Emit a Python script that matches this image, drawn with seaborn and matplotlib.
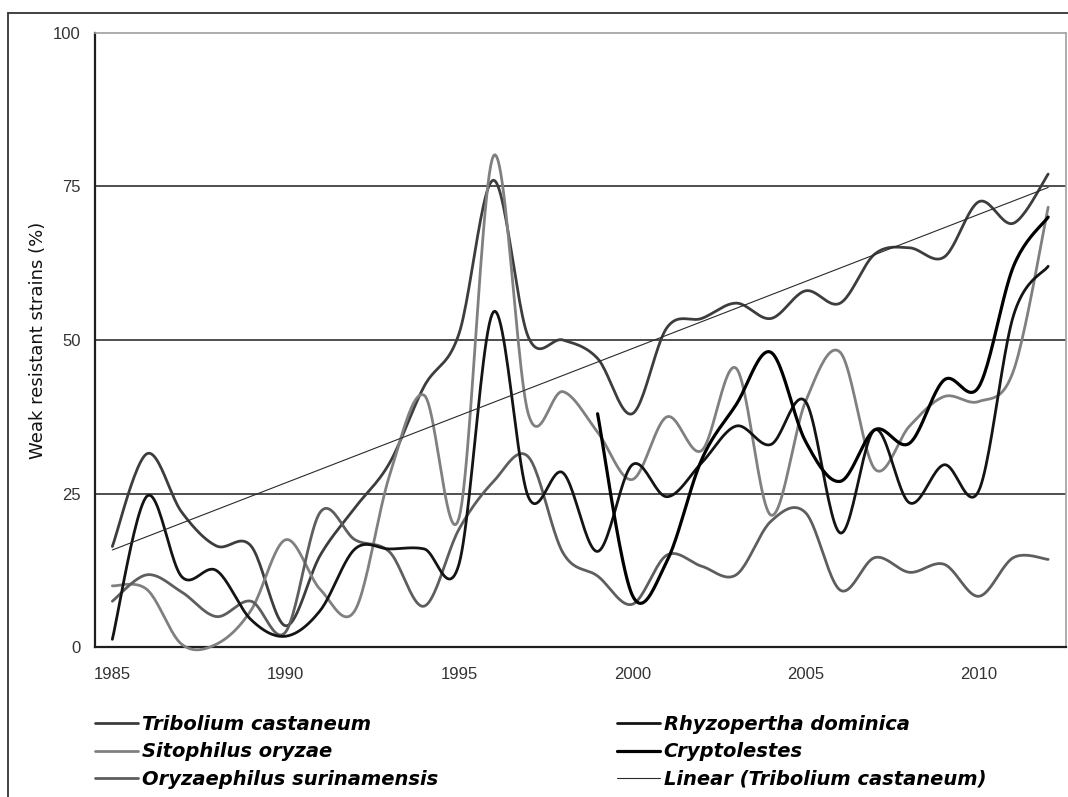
import numpy as np
import pandas as pd
import matplotlib
matplotlib.use("Agg")
import matplotlib.pyplot as plt
import seaborn as sns
from matplotlib.lines import Line2D

# Percentage of weak resistant strains per year and species
years = list(range(1985, 2013))
tribolium = [16.4, 31.5, 22.0, 16.5, 16.5, 3.5, 15.0, 22.7, 30.0, 42.5, 51.0, 76.0, 50.5, 50.0,
             47.0, 38.0, 52.0, 53.5, 56.0, 53.5, 58.0, 56.0, 64.0, 65.0, 63.5, 72.5, 69.0, 77.0]
sitophilus = [10.0, 9.4, 0.5, 0.5, 6.0, 17.5, 9.4, 6.0, 28.0, 41.0, 21.0, 80.0, 38.0, 41.6,
              35.0, 27.3, 37.5, 32.0, 45.4, 21.5, 40.0, 48.0, 29.0, 36.0, 40.8, 40.0, 45.0, 71.6]
oryzaephilus = [7.5, 11.8, 9.0, 5.0, 7.5, 2.5, 22.0, 17.5, 15.5, 6.7, 19.2, 27.0, 31.0, 15.4,
                11.6, 7.0, 15.0, 13.2, 11.8, 20.5, 21.9, 9.3, 14.6, 12.2, 13.5, 8.3, 14.6, 14.3]
rhyzopertha = [1.3, 24.6, 11.5, 12.5, 4.5, 1.8, 6.0, 16.0, 16.0, 16.0, 13.5, 54.6, 24.5, 28.4,
               15.6, 29.7, 24.5, 30.0, 36.0, 33.0, 40.0, 18.6, 35.4, 23.5, 29.7, 25.5, 54.0, 62.0]
cryptolestes = [np.nan] * 14 + [38.0, 8.5, 14.0, 30.5, 39.5, 48.0, 33.5, 27.0, 35.4, 33.2,
                                43.5, 42.4, 62.0, 70.0]

series_names = ["Tribolium castaneum", "Sitophilus oryzae", "Oryzaephilus surinamensis",
                "Rhyzopertha dominica", "Cryptolestes"]
series_values = [tribolium, sitophilus, oryzaephilus, rhyzopertha, cryptolestes]
series_colors = ["#3d3d3d", "#808080", "#5e5e5e", "#141414", "#000000"]
series_widths = [2.0, 2.0, 2.0, 2.0, 2.3]
year_labels = [1985, 1990, 1995, 2000, 2005, 2010]
y_ticks = [0, 25, 50, 75, 100]


def bezier_smooth(xs, ys, steps=24):
    """Smoothed line through the points (cubic Bezier, 1/6 tangent rule)."""
    pts = np.column_stack([xs, ys]).astype(float)
    n = len(pts)
    parts = []
    for i in range(n - 1):
        p0 = pts[max(i - 1, 0)]
        p1 = pts[i]
        p2 = pts[i + 1]
        p3 = pts[min(i + 2, n - 1)]
        c1 = p1 + (p2 - p0) / 6.0
        c2 = p2 - (p3 - p1) / 6.0
        t = np.linspace(0, 1, steps, endpoint=(i == n - 2))[:, None]
        seg = ((1 - t) ** 3) * p1 + 3 * ((1 - t) ** 2) * t * c1 + 3 * (1 - t) * (t ** 2) * c2 + (t ** 3) * p2
        parts.append(seg)
    arr = np.vstack(parts)
    return arr[:, 0], arr[:, 1]


sns.set_style("white")
plt.rcParams["font.family"] = ["Liberation Sans", "DejaVu Sans"]

W, H = 1068, 797
fig = plt.figure(figsize=(W / 100, H / 100), dpi=100)
ax = fig.add_axes([95 / W, 1 - 647.3 / H, (1065.5 - 95) / W, (647.3 - 32.7) / H])

# Horizontal gridlines
for v in [25, 50, 75]:
    ax.axhline(v, color="#1e1e1e", lw=1.1, zorder=1)

df = pd.DataFrame({"year": years})
for name, vals, col, lw in zip(series_names, series_values, series_colors, series_widths):
    df[name] = vals
    d = df[["year", name]].dropna()
    sx, sy = bezier_smooth(d["year"].values, d[name].values)
    sns.lineplot(x=sx, y=sy, sort=False, estimator=None, color=col, lw=lw, ax=ax,
                 zorder=3, clip_on=False)

# Linear trend fitted to Tribolium castaneum
coef = np.polyfit(years, tribolium, 1)
trend = np.polyval(coef, years)
sns.lineplot(x=years, y=trend, sort=False, estimator=None, color="#2a2a2a", lw=0.8, ax=ax, zorder=4)

ax.set_xlim(1984.5, 2012.5)
ax.set_ylim(0, 100)
ax.set_xticks(np.arange(1984.5, 2013, 1.0))
ax.set_xticklabels([])
ax.set_xticks(year_labels, minor=True)
ax.set_xticklabels([str(y) for y in year_labels], minor=True)
ax.set_yticks(y_ticks)
ax.set_yticklabels([str(v) for v in y_ticks])
ax.tick_params(axis="x", which="major", direction="out", length=4.5, width=1.3, color="#1e1e1e")
ax.tick_params(axis="x", which="minor", length=0, pad=14, labelsize=12, labelcolor="#333333")
ax.tick_params(axis="y", direction="out", length=4.5, width=1.3, color="#1e1e1e",
               labelsize=12, labelcolor="#333333", pad=6)
ax.set_xlabel("")
ax.set_ylabel("Weak resistant strains (%)", fontsize=13, color="#111111", labelpad=4,
              family="DejaVu Sans")

for side in ["left", "bottom"]:
    ax.spines[side].set_color("#1e1e1e")
    ax.spines[side].set_linewidth(1.6)
for side in ["top", "right"]:
    ax.spines[side].set_color("#a0a0a0")
    ax.spines[side].set_linewidth(1.2)
    ax.spines[side].set_visible(True)

# Outer chart frame (left and top edges)
fx = 8 / W
fy = 1 - 13 / H
fig.add_artist(Line2D([fx, fx], [0, fy], transform=fig.transFigure, color="#333333", lw=1.3))
fig.add_artist(Line2D([fx, 1], [fy, fy], transform=fig.transFigure, color="#333333", lw=1.3))

# Legend in two columns
handles = [Line2D([], [], color=c, lw=w) for c, w in zip(series_colors, series_widths)]
handles.append(Line2D([], [], color="#2a2a2a", lw=0.8))
labels = series_names + ["Linear (Tribolium castaneum)"]
leg_font = {"family": "DejaVu Sans", "weight": "bold", "style": "oblique", "size": 14}
left_idx = [0, 1, 2]
right_idx = [3, 4, 5]
for idx, x0 in [(left_idx, 95), (right_idx, 617)]:
    fig.legend([handles[i] for i in idx], [labels[i] for i in idx],
               loc="upper left", bbox_to_anchor=(x0 / W, 1 - 715 / H),
               frameon=False, prop=leg_font, handlelength=2.2, handletextpad=0.2,
               labelspacing=0.43, borderpad=0, borderaxespad=0, labelcolor="#000000")

fig.savefig("out.png", dpi=100)
